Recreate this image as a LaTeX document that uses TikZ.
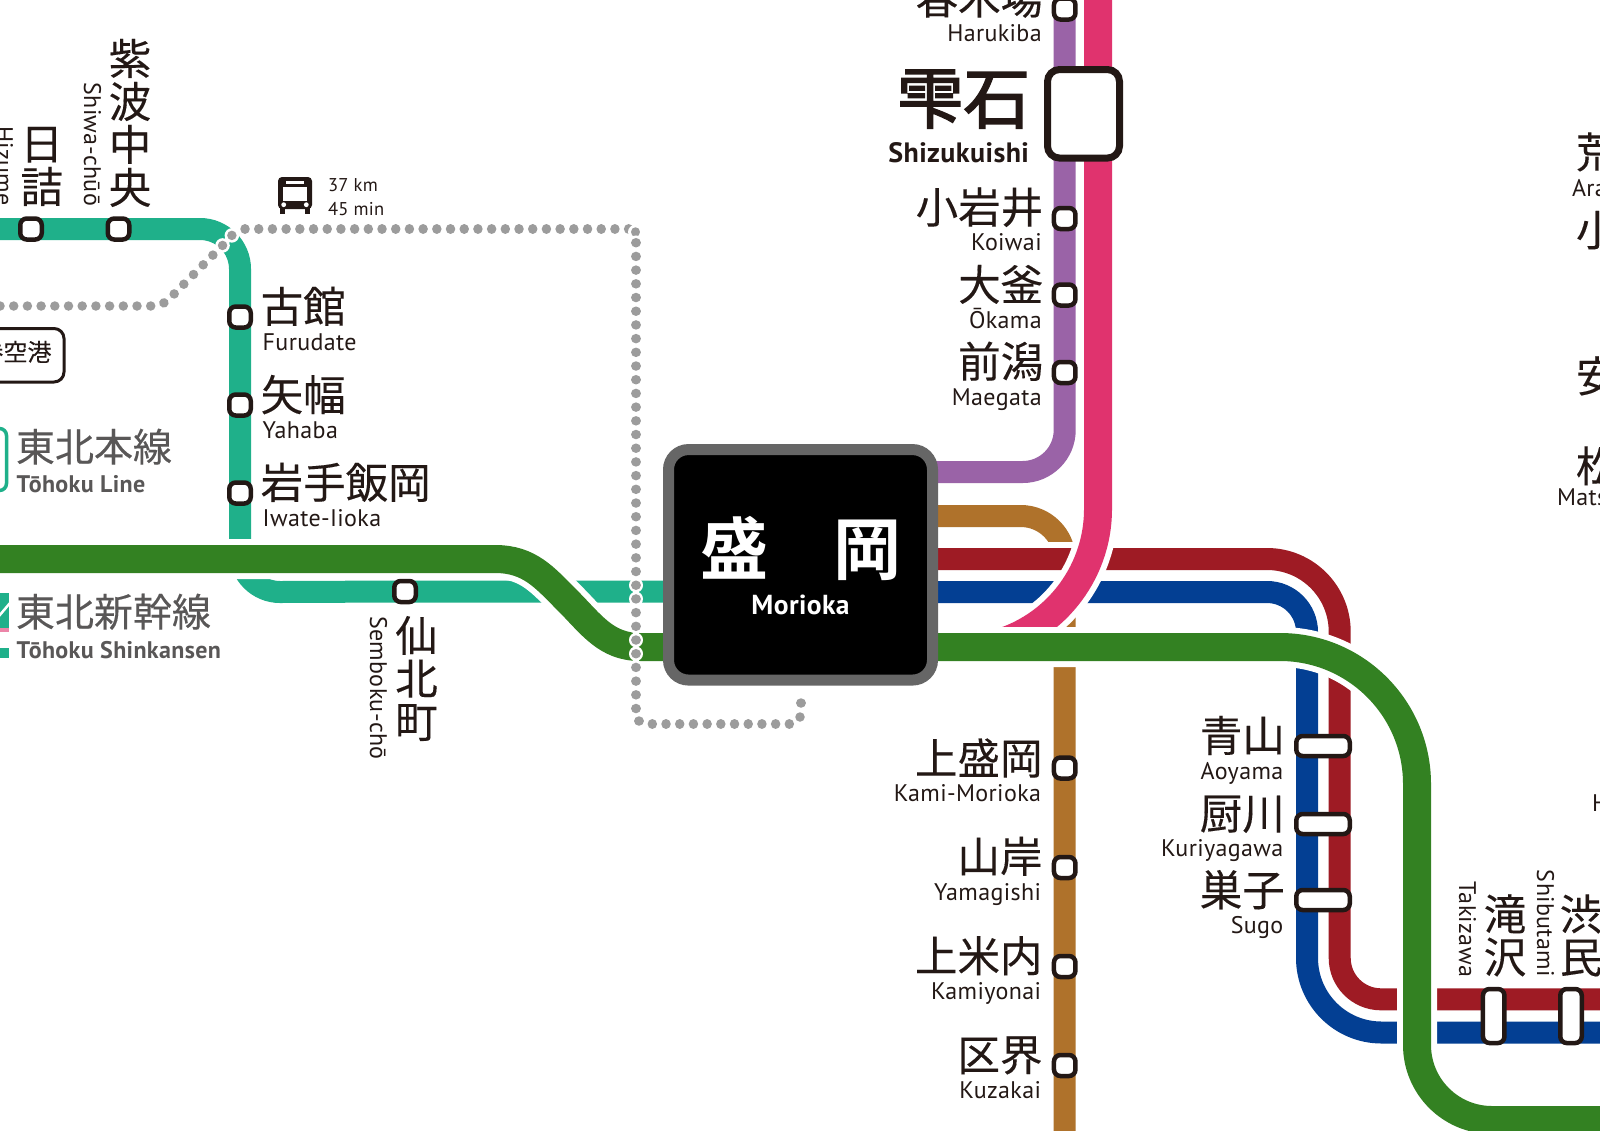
\documentclass[tikz,border=0pt]{standalone}
\usepackage{fontspec}
\usetikzlibrary{backgrounds}
\setmainfont[LetterSpace=1.5]{PT Sans}
\newfontfamily\jp[FakeBold=0.2]{Noto Sans CJK JP}
\newfontfamily\jpm[FakeBold=2.5]{Noto Sans CJK JP}
\newfontfamily\jpb{Noto Sans CJK JP Bold}
\definecolor{ink}{HTML}{231815}
\definecolor{legendgray}{HTML}{595757}
\definecolor{tealline}{HTML}{1FB08A}
\definecolor{shink}{HTML}{338122}
\definecolor{purpleline}{HTML}{9A63A7}
\definecolor{pinkline}{HTML}{E0336E}
\definecolor{brownline}{HTML}{AF722B}
\definecolor{redline}{HTML}{9E1B24}
\definecolor{blueline}{HTML}{033F93}
\definecolor{dotgray}{HTML}{9C9C9C}
\definecolor{boxgray}{HTML}{666666}
\tikzset{
  every node/.style={inner sep=0pt,outer sep=0pt},
  stn/.style={draw=ink,fill=white,line width=4.5pt,rounded corners=6.5pt,minimum width=21.5pt,minimum height=21pt},
  wide/.style={stn,minimum width=53.5pt,minimum height=20pt},
  tall/.style={stn,minimum width=21.5pt,minimum height=54pt},
  kj/.style={text=ink,font=\jp\fontsize{42.5}{43}\selectfont,align=center},
  en/.style={text=ink,font=\fontsize{24}{26}\selectfont},
  dots/.style={line cap=round,line width=9.5pt,draw=dotgray,dash pattern=on 0.01pt off 13.69pt},
  halo/.style={line cap=round,line width=14.5pt,draw=white,dash pattern=on 0.01pt off 13.69pt},
}
\newcommand{\rlab}[5]{% name, x, latin baseline, kanji, latin
  \node[kj,anchor=base east] (#1k) at ({#2+1.5},{#3-27.5}) {#4};
  \node[en,anchor=base east] (#1e) at (#2,#3) {#5};}
\newcommand{\llab}[5]{%
  \node[kj,anchor=base west] (#1k) at ({#2-2},{#3-27.5}) {#4};
  \node[en,anchor=base west] (#1e) at (#2,#3) {#5};}
\newcommand{\dotted}[1]{\draw[halo] #1; \draw[dots] #1;}
\begin{document}
\begin{tikzpicture}[x=1pt,y=-1pt]
\useasboundingbox (0,0) rectangle (1600,1130);

% station symbols
\node[stn] (hizS) at (31,229) {};
\node[stn] (shiS) at (118.5,229) {};
\node[stn] (furS) at (240,317) {};
\node[stn] (yahS) at (240,405) {};
\node[stn] (iioS) at (240,493) {};
\node[stn] (semS) at (405,591.5) {};
\node[stn] (harS) at (1064.7,9) {};
\node[stn] (koiS) at (1064.7,218.5) {};
\node[stn] (okaS) at (1064.7,295) {};
\node[stn] (maeS) at (1064.7,372.5) {};
\node[stn] (kamS) at (1064.7,768) {};
\node[stn] (yamS) at (1064.7,867.5) {};
\node[stn] (kynS) at (1064.7,966.5) {};
\node[stn] (kuzS) at (1064.7,1065.5) {};
\node[wide] (aoyS) at (1323,746) {};
\node[wide] (kurS) at (1323,824) {};
\node[wide] (sugS) at (1323,900) {};
\node[tall] (takS) at (1493.7,1016) {};
\node[tall] (shbS) at (1571,1016) {};
\node[draw=ink,fill=white,line width=7pt,rounded corners=12pt,minimum width=72pt,minimum height=88.5pt] (shzS) at (1083.5,113.8) {};

% Morioka
\node[draw=boxgray,fill=black,line width=11pt,rounded corners=20pt,minimum width=264pt,minimum height=230.5pt] (morioka) at (800.5,564.8) {};
\node[text=white,font=\jpb\fontsize{68}{70}\selectfont,anchor=base] (moriA) at (734,574) {盛};
\node[text=white,font=\jpb\fontsize{68}{70}\selectfont,anchor=base] (moriB) at (867,574) {岡};
\node[text=white,font=\bfseries\fontsize{27.5}{29}\selectfont,anchor=base] (moriE) at (800.5,614) {Morioka};

% labels
\rlab{har}{1041.7}{41.7}{春木場}{Harukiba}
\rlab{koi}{1041.7}{250.7}{小岩井}{Koiwai}
\rlab{oka}{1041.7}{328}{大釜}{Ōkama}
\rlab{mae}{1041.7}{405}{前潟}{Maegata}
\rlab{kam}{1041}{801.7}{上盛岡}{Kami-Morioka}
\rlab{yam}{1041}{900}{山岸}{Yamagishi}
\rlab{kyn}{1041}{999.3}{上米内}{Kamiyonai}
\rlab{kuz}{1041}{1098.3}{区界}{Kuzakai}
\rlab{aoy}{1283.3}{779}{青山}{Aoyama}
\rlab{kur}{1283.3}{856.7}{厨川}{Kuriyagawa}
\rlab{sug}{1283.3}{933.3}{巣子}{Sugo}
\llab{fur}{262.7}{350}{古館}{Furudate}
\llab{yah}{262.7}{438.3}{矢幅}{Yahaba}
\llab{iio}{262.7}{526}{岩手飯岡}{Iwate-Iioka}
\node[text=ink,font=\jpm\fontsize{66.5}{68}\selectfont,anchor=base east] (shzK) at (1030,123) {雫石};
\node[text=ink,font=\bfseries\fontsize{28}{30}\selectfont,anchor=base east] (shzE) at (1029,162.7) {Shizukuishi};

% vertical labels
\node[kj,anchor=south] (hizK) at (41.7,206) {日\\詰};
\node[kj,anchor=south] (shiK) at (130,207) {紫\\波\\中\\央};
\node[kj,anchor=north] (semK) at (416.5,616) {仙\\北\\町};
\node[kj,anchor=south] (takK) at (1505,976.5) {滝\\沢};
\node[kj,anchor=south] (shbK) at (1581,976.5) {渋\\民};
\node[en,rotate=-90,anchor=base east] (hizE) at (-4,206) {Hizume};
\node[en,rotate=-90,anchor=base east] (shiE) at (84,206) {Shiwa-chūō};
\node[en,rotate=-90,anchor=base west] (semE) at (370,616) {Semboku-chō};
\node[en,rotate=-90,anchor=base east] (takE) at (1459,977) {Takizawa};
\node[en,rotate=-90,anchor=base east] (shbE) at (1537,977) {Shibutami};

% cut-off labels at the right edge
\node[kj,anchor=base west] (araK) at (1576,168) {荒};
\node[en,anchor=base west] (araE) at (1572,196) {Ara};
\node[kj,anchor=base west] (koyK) at (1576,246) {小};
\node[kj,anchor=base west] (appK) at (1576,392) {安};
\node[kj,anchor=base west] (matK) at (1576,482) {松};
\node[en,anchor=base west] (matE) at (1557,505) {Mats};
\node[en,anchor=base west] (hE) at (1592,811.7) {H};

% legend
\node[text=legendgray,font=\jp\fontsize{39}{40}\selectfont,anchor=base west] (lg1k) at (16,461.5) {東北本線};
\node[text=legendgray,font=\bfseries\fontsize{24}{26}\selectfont,anchor=base west] (lg1e) at (16.5,492.7) {Tōhoku Line};
\node[text=legendgray,font=\jp\fontsize{39}{40}\selectfont,anchor=base west] (lg2k) at (16,626.5) {東北新幹線};
\node[text=legendgray,font=\bfseries\fontsize{24}{26}\selectfont,anchor=base west] (lg2e) at (16.5,658) {Tōhoku Shinkansen};
\node[text=ink,font=\jp\fontsize{24}{26}\selectfont,anchor=base east] (apt) at (51.5,361) {巻空港};

% bus distance
\node[text=ink,font=\fontsize{18.5}{21}\selectfont,anchor=base west] (km) at (328,191.7) {37 km};
\node[text=ink,font=\fontsize{18.5}{21}\selectfont,anchor=base west] (min) at (328,215) {45 min};

\begin{scope}[on background layer]
\fill[white] (0,0) rectangle (1600,1130);

% legend marks
\draw[tealline,line width=3.5pt,rounded corners=7pt] (-30,428.5) rectangle (6.5,490.5);
\fill[tealline] (-1,592.7) rectangle (9,628);
\draw[white,line width=2.5pt] (-1,616) -- (10,603);
\fill[pinkline!60] (-1,628) rectangle (9,632);
\fill[tealline] (-1,648) rectangle (9,658);
\draw[ink,line width=3pt,rounded corners=10pt] (-30,328.5) rectangle (64,382);

% bus
\fill[ink,rounded corners=4pt] (278,177) rectangle (312,209);
\fill[ink] (280,205) rectangle (285,214);
\fill[ink] (305,205) rectangle (310,214);
\fill[white] (283,187) rectangle (307,201);
\fill[white] (286,181) rectangle (304,184);
\fill[white] (283.7,204.7) circle[radius=2.4];
\fill[white] (306.3,204.7) circle[radius=2.4];

% Tohoku Line
\draw[tealline,line width=22pt] (-20,229) -- (hizS.center) -- (shiS.center) -- (200,229)
  arc[start angle=-90,end angle=0,radius=40] -- (furS.center) -- (yahS.center) -- (iioS.center) -- (240,552)
  arc[start angle=180,end angle=90,radius=40] -- (semS.center) -- (morioka.center |- semS.center);
% Purple
\draw[purpleline,line width=22pt] (1064.7,-20) -- (harS.center) -- (koiS.center) -- (okaS.center) -- (maeS.center) -- (1064.7,430)
  arc[start angle=0,end angle=90,radius=42] -- (800,472);
% Brown
\draw[brownline,line width=22pt] (morioka.center |- 0,516) -- (1020.7,516)
  arc[start angle=-90,end angle=0,radius=44] -- (kamS.center) -- (yamS.center) -- (kynS.center) -- (kuzS.center) -- (1064.7,1160);
% Red and blue
\def\redpath{(morioka.center |- 0,559) -- (1267,559) arc[start angle=-90,end angle=0,radius=72.7] -- (1339.7,958) arc[start angle=180,end angle=90,radius=41.3] -- (1640,999.3)}
\def\bluepath{(morioka.center |- 0,592) -- (1267,592) arc[start angle=-90,end angle=0,radius=40] -- (1307,958) arc[start angle=180,end angle=90,radius=74.5] -- (1640,1032.5)}
\draw[white,line width=34pt] \redpath;
\draw[white,line width=34pt] \bluepath;
\draw[redline,line width=22pt] \redpath;
\draw[blueline,line width=22pt] \bluepath;
% Akita Shinkansen
\def\pinkpath{(1098,-20) -- (1098,509) arc[start angle=0,end angle=78,radius=140]}
\draw[white,line width=40pt] \pinkpath;
\draw[pinkline,line width=28pt] \pinkpath;
% Tohoku Shinkansen
\def\greenpath{(-20,559) -- (495,559) .. controls (530,559) and (545,578) .. (568,601) .. controls (591,624) and (606,647) .. (640,647) -- (1280,647) arc[start angle=-90,end angle=0,radius=137] -- (1417,1045) arc[start angle=180,end angle=90,radius=75] -- (1640,1120)}
\draw[white,line width=40pt] \greenpath;
\draw[shink,line width=28pt] \greenpath;
% bus route
\dotted{(0,306) -- (151,306) .. controls (165,306) and (170,298) .. (177,291) -- (223,245) .. controls (228,240) and (235,229) .. (245,229)}
\dotted{(245,229) -- (629,229)}
\dotted{(635.5,232) -- (635.5,232.1)}
\dotted{(636,242.7) -- (636,710)}
\dotted{(639,721) -- (639,721.1)}
\dotted{(652.3,724) -- (790,724)}
\dotted{(800,717) -- (801,716)}
\dotted{(801,703) -- (801,692)}
\end{scope}
\end{tikzpicture}
\end{document}
